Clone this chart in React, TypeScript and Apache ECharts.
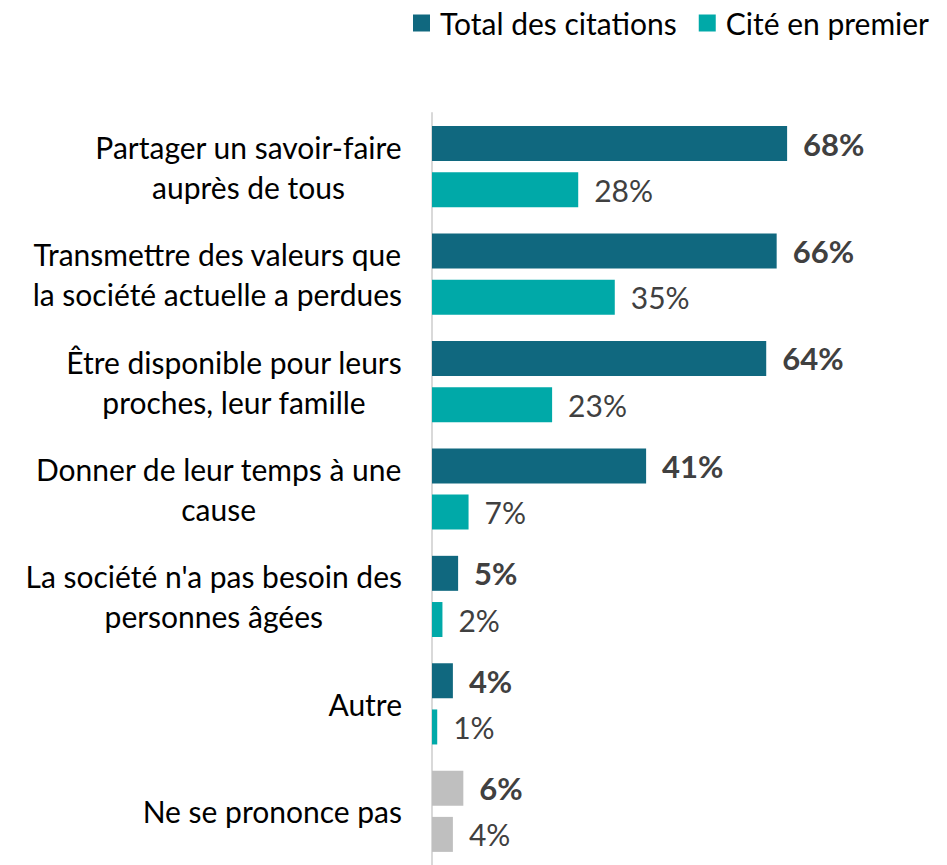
import React, { useEffect, useRef } from "react";
import * as echarts from "echarts";

const categories = [
  "Partager un savoir-faire\nauprès de tous",
  "Transmettre des valeurs que\nla société actuelle a perdues",
  "Être disponible pour leurs\nproches, leur famille",
  "Donner de leur temps à une\ncause",
  "La société n'a pas besoin des\npersonnes âgées",
  "Autre",
  "Ne se prononce pas",
];
const totalCitations = [68, 66, 64, 41, 5, 4, 6];
const citeEnPremier = [28, 35, 23, 7, 2, 1, 4];
const seriesNames = ["Total des citations", "Cité en premier"];

const DARK = "#10687F";
const LIGHT = "#00A9A8";
const GREY = "#BFBFBF";
const FONT = "Lato";

export default function App() {
  const ref = useRef<HTMLDivElement>(null);
  useEffect(() => {
    if (!ref.current) return;
    const chart = echarts.init(ref.current, null, { renderer: "svg" });
    const lastIdx = categories.length - 1;
    chart.setOption({
      animation: false,
      textStyle: { fontFamily: FONT },
      legend: {
        data: seriesNames,
        left: 413,
        top: 8,
        padding: 0,
        itemWidth: 17,
        itemHeight: 17,
        itemGap: 22,
        icon: "rect",
        textStyle: { fontSize: 30, color: "#000", fontFamily: FONT, padding: [0, 0, 0, 5] },
      },
      grid: { left: 432, top: 113, width: 470, height: 757 },
      xAxis: {
        type: "value",
        min: 0,
        max: 90,
        show: false,
      },
      yAxis: {
        type: "category",
        inverse: true,
        data: categories,
        axisLine: { show: true, lineStyle: { color: "#D9D9D9", width: 2 } },
        axisTick: { show: false },
        axisLabel: {
          margin: 30,
          align: "right",
          formatter: (v: string) =>
            v
              .split("\n")
              .map((l) => `{c|${l}}`)
              .join("\n"),
          rich: {
            c: {
              align: "center",
              fontSize: 30,
              lineHeight: 40,
              color: "#000",
              fontFamily: FONT,
            },
          },
        },
      },
      series: [
        {
          name: seriesNames[0],
          type: "bar",
          barWidth: 35,
          barGap: "32%",
          itemStyle: { color: DARK },
          data: totalCitations.map((v, i) =>
            i === lastIdx ? { value: v, itemStyle: { color: GREY } } : v
          ),
          label: {
            show: true,
            position: "right",
            distance: 16,
            formatter: "{c}%",
            fontSize: 31,
            fontWeight: "bold",
            color: "#404040",
            fontFamily: FONT,
          },
        },
        {
          name: seriesNames[1],
          type: "bar",
          barWidth: 35,
          itemStyle: { color: LIGHT },
          data: citeEnPremier.map((v, i) =>
            i === lastIdx ? { value: v, itemStyle: { color: GREY } } : v
          ),
          label: {
            show: true,
            position: "right",
            distance: 16,
            formatter: "{c}%",
            fontSize: 30,
            color: "#404040",
            fontFamily: FONT,
          },
        },
      ],
    });
    return () => chart.dispose();
  }, []);
  return (
    <div
      ref={ref}
      style={{ position: "absolute", left: 0, top: 0, width: 947, height: 865 }}
    />
  );
}
